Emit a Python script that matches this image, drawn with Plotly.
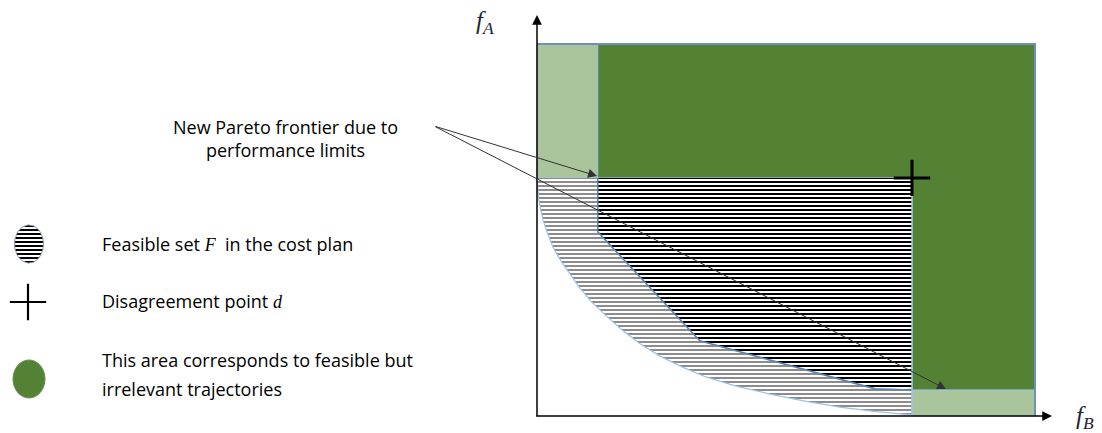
import numpy as np
import plotly.graph_objects as go

# ---------------- data (cost plane units) ----------------
fB_max, fA_max = 10.0, 10.0          # extent of the drawn cost plane
d_point = (7.53, 6.40)               # disagreement point d
fB_limit = 1.22                      # performance limit on f_B
fA_limit = 0.70                      # performance limit on f_A

# lower boundary of the feasible set F, left -> right
curve_fB = [0.00, 0.02, 0.04, 0.08, 0.12, 0.20, 0.32, 0.48, 0.66, 0.86, 1.10, 1.39,
            1.71, 2.07, 2.47, 2.91, 3.39, 3.98, 4.68, 5.38, 6.08, 6.81, 7.53]
curve_fA = [6.40, 5.97, 5.78, 5.51, 5.27, 4.95, 4.54, 4.17, 3.82, 3.44, 3.06, 2.69,
            2.31, 1.94, 1.61, 1.32, 1.05, 0.81, 0.59, 0.40, 0.24, 0.12, 0.03]

# new Pareto frontier due to performance limits
front_fB = [1.22, 1.22, 3.27, 6.79, 7.53]
front_fA = [6.40, 4.95, 2.02, 0.73, 0.70]

title_text = "New Pareto frontier due to<br>performance limits"
legend_texts = [
    "Feasible set <span style='font-family:Liberation Serif'><i>F</i></span>  in the cost plan",
    "Disagreement point <span style='font-family:Liberation Serif'><i>d</i></span>",
    "This area corresponds to feasible but",
    "irrelevant trajectories",
]

# ---------------- page geometry helpers (page pixel -> axis units) ----------------
PAGE_W, PAGE_H = 1102, 433
BODY = 8                              # default body margin of the page
W, H = PAGE_W - BODY, PAGE_H - BODY
X0PX, Y0PX, SX, SY = 537, 416, 49.8, 37.2
def px2x(px):
    return (px - X0PX) / SX
def py2y(py):
    return (Y0PX - py) / SY

DARK = "#548235"
LIGHT = "#aac49b"
EDGE = "#9dc3e6"
FRONT_EDGE = "#5b84b1"
FONT = "Open Sans"
FS = 18

dB, dA = d_point
fig = go.Figure()

# light green strips
fig.add_trace(go.Scatter(x=[0, 0, fB_limit, fB_limit, 0], y=[dA, fA_max, fA_max, dA, dA],
                         fill="toself", fillcolor=LIGHT, mode="lines",
                         line=dict(color=EDGE, width=1), hoverinfo="skip"))
fig.add_trace(go.Scatter(x=[dB, fB_max, fB_max, dB, dB], y=[0, 0, fA_limit, fA_limit, 0],
                         fill="toself", fillcolor=LIGHT, mode="lines",
                         line=dict(color=EDGE, width=1), hoverinfo="skip"))
# dark green region
fig.add_trace(go.Scatter(x=[fB_limit, fB_max, fB_max, dB, dB, fB_limit, fB_limit],
                         y=[fA_max, fA_max, fA_limit, fA_limit, dA, dA, fA_max],
                         fill="toself", fillcolor=DARK, mode="lines",
                         line=dict(color=EDGE, width=1), hoverinfo="skip"))
# outer box edge
fig.add_trace(go.Scatter(x=[0, fB_max, fB_max], y=[fA_max, fA_max, 0], mode="lines",
                         line=dict(color="#6f8fbf", width=2), hoverinfo="skip"))

# feasible set F (grey hatch)
fx = [0, dB, dB] + curve_fB[::-1]
fy = [dA, dA, 0] + curve_fA[::-1]
fig.add_trace(go.Scatter(x=fx, y=fy, fill="toself", mode="none", fillcolor="white",
                         fillpattern=dict(shape="-", size=4, solidity=0.5, fgopacity=1,
                                          fgcolor="#8c8c8c", bgcolor="white"),
                         hoverinfo="skip"))
fig.add_trace(go.Scatter(x=curve_fB, y=curve_fA, mode="lines",
                         line=dict(color=EDGE, width=1.2), hoverinfo="skip"))

# region above the new frontier (black hatch)
ix = front_fB + [dB, fB_limit]
iy = front_fA + [dA, dA]
fig.add_trace(go.Scatter(x=ix, y=iy, fill="toself", mode="none", fillcolor="white",
                         fillpattern=dict(shape="-", size=4, solidity=0.5, fgopacity=1,
                                          fgcolor="black", bgcolor="white"),
                         hoverinfo="skip"))
fig.add_trace(go.Scatter(x=front_fB, y=front_fA, mode="lines",
                         line=dict(color=FRONT_EDGE, width=1.6), hoverinfo="skip"))
fig.add_trace(go.Scatter(x=[dB, dB], y=[dA, 0], mode="lines",
                         line=dict(color=EDGE, width=1.5), hoverinfo="skip"))

# disagreement point
fig.add_trace(go.Scatter(x=[dB], y=[dA], mode="markers",
                         marker=dict(symbol="cross-thin", size=26,
                                     line=dict(color="black", width=3)),
                         hoverinfo="skip"))

# ---------------- legend icons ----------------
t = np.linspace(0, 2 * np.pi, 60)
ex = px2x(29 + 14.5 * np.cos(t))
ey = py2y(244 + 19 * np.sin(t))
fig.add_trace(go.Scatter(x=ex, y=ey, fill="toself", mode="lines", fillcolor="white",
                         line=dict(color="#8a97a8", width=1),
                         fillpattern=dict(shape="-", size=4, solidity=0.5, fgopacity=1,
                                          fgcolor="black", bgcolor="white"),
                         hoverinfo="skip"))
fig.add_trace(go.Scatter(x=[px2x(28)], y=[py2y(302)], mode="markers",
                         marker=dict(symbol="cross-thin", size=26,
                                     line=dict(color="black", width=2.2)),
                         hoverinfo="skip"))
fig.add_shape(type="circle", x0=px2x(13), x1=px2x(45), y0=py2y(360), y1=py2y(398),
              fillcolor=DARK, line=dict(color="#6b8c57", width=1))

# ---------------- annotations ----------------
ann = []
# axes arrows
ann.append(dict(x=0, y=py2y(15), ax=0, ay=py2y(418), xref="x", yref="y", axref="x", ayref="y",
                text="", showarrow=True, arrowhead=2, arrowsize=1.3, arrowwidth=1.5,
                arrowcolor="black", standoff=0, startstandoff=0))
ann.append(dict(x=px2x(1052), y=0, ax=px2x(535), ay=0, xref="x", yref="y", axref="x", ayref="y",
                text="", showarrow=True, arrowhead=2, arrowsize=1.3, arrowwidth=1.5,
                arrowcolor="black", standoff=0, startstandoff=0))
# Pareto arrows
for tx, ty in [(px2x(597), py2y(176)), (px2x(946), py2y(389))]:
    ann.append(dict(x=tx, y=ty, ax=px2x(434), ay=py2y(126), xref="x", yref="y",
                    axref="x", ayref="y", text="", showarrow=True, arrowhead=2,
                    arrowsize=1.8, arrowwidth=1, arrowcolor="#333333", standoff=0))
# texts
ann.append(dict(x=px2x(285), y=py2y(138), xref="x", yref="y", text=title_text,
                showarrow=False, align="center", font=dict(family=FONT, size=FS, color="black")))
for txt, py in zip(legend_texts, [244, 301, 360, 389]):
    ann.append(dict(x=px2x(100), y=py2y(py), xref="x", yref="y", text=txt, xanchor="left",
                    showarrow=False, align="left", font=dict(family=FONT, size=FS, color="black")))
ann.append(dict(x=px2x(485), y=py2y(22), xref="x", yref="y", text="<i>f</i><sub><i>A</i></sub>",
                showarrow=False, font=dict(family="Liberation Serif", size=25, color="#1c2438")))
ann.append(dict(x=px2x(1085), y=py2y(417), xref="x", yref="y", text="<i>f</i><sub><i>B</i></sub>",
                showarrow=False, font=dict(family="Liberation Serif", size=25, color="#1c2438")))

fig.update_layout(
    width=W, height=H, margin=dict(l=0, r=0, t=0, b=0),
    paper_bgcolor="white", plot_bgcolor="white", showlegend=False,
    xaxis=dict(range=[px2x(BODY), px2x(PAGE_W)], visible=False, fixedrange=True),
    yaxis=dict(range=[py2y(PAGE_H), py2y(BODY)], visible=False, fixedrange=True),
    annotations=ann,
)
fig.write_html("out.html")
